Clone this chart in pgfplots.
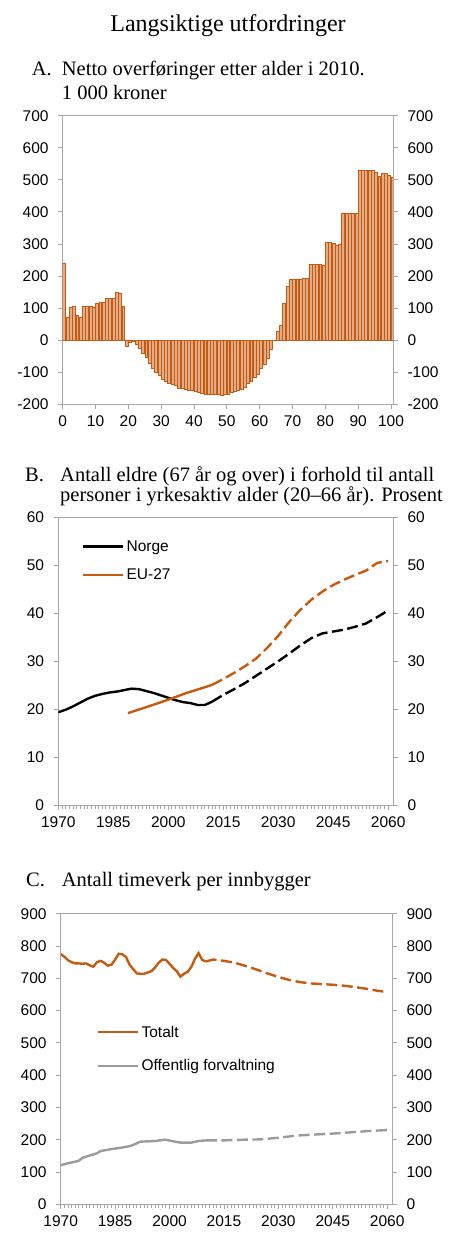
\documentclass[border=0pt]{standalone}
\usepackage{fontspec}
\setmainfont{Liberation Sans}
\newfontfamily\serif{Liberation Serif}
\usepackage{pgfplots}
\pgfplotsset{compat=1.18}

\definecolor{fdorange}{RGB}{197,90,17}
\definecolor{fdgray}{RGB}{155,155,155}
\definecolor{axgray}{RGB}{166,166,166}
\newcommand{\tickfont}{\fontsize{15.5}{18}\selectfont}
\newcommand{\titlefont}{\serif\fontsize{20.5}{24}\selectfont}

\pgfplotsset{
  base/.style={
    scale only axis,
    axis line style={draw=axgray, line width=0.9pt},
    tick style={draw=axgray, line width=0.9pt},
    tick align=outside,
    major tick length=4.5pt,
    minor tick length=3.5pt,
    ticklabel style={font=\tickfont, text=black},
    yticklabel style={inner xsep=9.5pt},
    xticklabel style={inner ysep=7pt},
    /pgf/number format/assume math mode=true,
    /pgf/number format/1000 sep={},
  },
  rightaxis/.style={
    base,
    axis x line=none,
    axis y line*=right,
    ytick pos=right,
    yticklabel pos=right,
  },
  leg/.style={
    legend style={draw=none, fill=none, font=\tickfont,
      inner sep=0pt, cells={anchor=west}},
    legend image code/.code={\draw[##1, solid, line width=2.4pt] (0pt,0pt) -- (40pt,0pt);},
  },
  dashed line/.style={line width=2.4pt, dash pattern=on 11pt off 4.5pt, forget plot},
}

\begin{document}
\begin{tikzpicture}
\useasboundingbox (0,0) rectangle (450pt,1248pt);

% titles
\node[anchor=base, inner sep=0pt, font=\serif\fontsize{24}{28}\selectfont] at (228pt,1216.3pt) {Langsiktige utfordringer};
\node[anchor=base west, inner sep=0pt, font=\titlefont] at (31.7pt,1172pt) {A.};
\node[anchor=base west, inner sep=0pt, font=\titlefont] at (61.7pt,1172pt) {Netto overføringer etter alder i 2010.};
\node[anchor=base west, inner sep=0pt, font=\titlefont] at (61.7pt,1148pt) {1 000 kroner};
\node[anchor=base west, inner sep=0pt, font=\titlefont] at (25pt,766.3pt) {B.};
\node[anchor=base west, inner sep=0pt, font=\titlefont] at (60pt,766.3pt) {Antall eldre (67 år og over) i forhold til antall};
\node[anchor=base west, inner sep=0pt, font=\titlefont] at (60pt,746.3pt) {personer i yrkesaktiv alder (20–66 år). Prosent};
\node[anchor=base west, inner sep=0pt, font=\titlefont] at (26pt,361.3pt) {C.};
\node[anchor=base west, inner sep=0pt, font=\titlefont] at (61.7pt,361.3pt) {Antall timeverk per innbygger};

% ---------- A: net transfers by age
\begin{axis}[base,
  at={(62.7pt,843.7pt)}, anchor=south west,
  width=330.6pt, height=288.6pt,
  xmin=0, xmax=100.7, ymin=-200, ymax=700,
  xtick={0,10,...,100}, ytick={-200,-100,...,700},
  xtick pos=bottom, ytick pos=left,
  extra y ticks={0}, extra y tick labels={},
  extra y tick style={grid=major, major grid style={draw=darkgray!80!black, line width=1pt}, major tick length=0pt},
  ybar, bar width=0.88,
]
\addplot[draw=fdorange, line width=0.6pt, fill=fdorange!50!white] table[x expr=\thisrow{age}+0.45, y=v] {
age v
0 241
1 71
2 101
3 107
4 76
5 71
6 107
7 106
8 106
9 103
10 116
11 119
12 118
13 129
14 129
15 130
16 148
17 146
18 105
19 -20
20 -7
21 -5
22 -12
23 -26
24 -40
25 -55
26 -71
27 -87
28 -100
29 -110
30 -123
31 -128
32 -134
33 -138
34 -141
35 -150
36 -150
37 -154
38 -155
39 -157
40 -160
41 -164
42 -166
43 -168
44 -170
45 -170
46 -169
47 -169
48 -172
49 -169
50 -170
51 -163
52 -161
53 -156
54 -152
55 -146
56 -136
57 -128
58 -117
59 -105
60 -89
61 -74
62 -56
63 -27
64 0
65 28
66 45
67 116
68 168
69 189
70 189
71 191
72 190
73 192
74 192
75 237
76 237
77 237
78 237
79 235
80 304
81 304
82 301
83 295
84 300
85 397
86 397
87 397
88 397
89 397
90 531
91 531
92 531
93 530
94 529
95 522
96 511
97 520
98 520
99 513
100 509
};
\end{axis}
\begin{axis}[rightaxis,
  at={(62.7pt,843.7pt)}, anchor=south west,
  width=330.6pt, height=288.6pt,
  xmin=0, xmax=100.7, ymin=-200, ymax=700,
  ytick={-200,-100,...,700},
]
\end{axis}

% ---------- B: old-age ratio
\begin{axis}[base, leg,
  at={(58.3pt,442.7pt)}, anchor=south west,
  width=335pt, height=288pt,
  xmin=1970, xmax=2061.4, ymin=0, ymax=60,
  xtick={1970,1985,...,2060}, minor x tick num=14,
  ytick={0,10,...,60},
  xtick pos=bottom, ytick pos=left,
  legend style={at={(rel axis cs:0,1)}, anchor=north west, xshift=23.7pt, yshift=-21pt, row sep=12pt},
]
\addplot[black, line width=2.4pt] coordinates {
(1970,19.4) (1972,19.9) (1974,20.6) (1976,21.4) (1978,22.2) (1980,22.8)
(1982,23.2) (1984,23.5) (1986,23.7) (1988,24.0) (1990,24.3) (1992,24.2)
(1994,23.8) (1996,23.4) (1998,22.9) (2000,22.4) (2002,21.9) (2004,21.5)
(2006,21.3) (2008,20.9) (2010,20.9) (2012,21.6)};
\addlegendentry{Norge}
\addplot[fdorange, line width=2.4pt] coordinates {
(1989,19.2) (1995,20.7) (2000,22.0) (2005,23.4) (2010,24.6) (2012,25.1)};
\addlegendentry{EU-27}
\addplot[black, dashed line] coordinates {
(2012,21.6) (2015,23.0) (2018,24.2) (2021,25.5) (2024,27.0) (2027,28.5)
(2030,30.0) (2033,31.6) (2036,33.3) (2039,34.8) (2042,35.8) (2045,36.2)
(2048,36.6) (2051,37.2) (2054,37.9) (2057,39.2) (2060,40.6)};
\addplot[fdorange, dashed line] coordinates {
(2012,25.1) (2015,26.3) (2018,27.6) (2021,29.0) (2024,30.6) (2027,32.8)
(2030,35.3) (2033,38.2) (2036,40.7) (2039,42.8) (2042,44.5) (2045,45.9)
(2048,47.0) (2051,48.0) (2054,48.9) (2057,50.5) (2060,50.9)};
\end{axis}
\begin{axis}[rightaxis,
  at={(58.3pt,442.7pt)}, anchor=south west,
  width=335pt, height=288pt,
  xmin=1970, xmax=2061.4, ymin=0, ymax=60,
  ytick={0,10,...,60},
]
\end{axis}

% ---------- C: hours worked per inhabitant
\begin{axis}[base, leg,
  at={(60.7pt,43.7pt)}, anchor=south west,
  width=331.6pt, height=290.6pt,
  xmin=1970, xmax=2061.4, ymin=0, ymax=900,
  xtick={1970,1985,...,2060}, minor x tick num=14,
  ytick={0,100,...,900},
  xtick pos=bottom, ytick pos=left,
  legend style={at={(rel axis cs:0,1)}, anchor=north west, xshift=36.3pt, yshift=-110pt, row sep=17pt},
]
\addplot[fdorange, line width=2.4pt] coordinates {
(1970,775) (1971,767) (1972,756) (1973,750) (1974,746) (1975,746) (1976,745)
(1977,746) (1978,740) (1979,736) (1980,750) (1981,754) (1982,748) (1983,739)
(1984,742) (1985,758) (1986,776) (1987,774) (1988,766) (1989,742) (1990,728)
(1991,715) (1992,714) (1993,714) (1994,718) (1995,722) (1996,733) (1997,748)
(1998,758) (1999,757) (2000,745) (2001,732) (2002,722) (2003,705) (2004,714)
(2005,720) (2006,735) (2007,760) (2008,778) (2009,757) (2010,752)};
\addlegendentry{Totalt}
\addplot[fdgray, line width=2.4pt] coordinates {
(1970,121) (1972,127) (1974,132) (1975,135) (1976,144) (1978,151) (1980,158)
(1981,165) (1984,171) (1987,176) (1989,180) (1990,184) (1992,194) (1994,195)
(1996,196) (1998,199) (1999,200) (2001,195) (2003,191) (2006,191) (2008,196)
(2010,198)};
\addlegendentry{Offentlig forvaltning}
\addplot[fdorange, dashed line] coordinates {
(2010,752) (2012,758) (2013,757) (2015,754) (2018,748) (2021,738) (2024,727)
(2027,715) (2030,704) (2033,695) (2036,688) (2039,684) (2042,682) (2045,680)
(2048,677) (2051,673) (2054,668) (2057,662) (2060,657)};
\addplot[fdgray, dashed line] coordinates {
(2010,198) (2015,198) (2020,200) (2025,201) (2030,206) (2035,213) (2040,216)
(2045,219) (2050,223) (2055,227) (2060,230)};
\end{axis}
\begin{axis}[rightaxis,
  at={(60.7pt,43.7pt)}, anchor=south west,
  width=331.6pt, height=290.6pt,
  xmin=1970, xmax=2061.4, ymin=0, ymax=900,
  ytick={0,100,...,900},
]
\end{axis}
\end{tikzpicture}
\end{document}
